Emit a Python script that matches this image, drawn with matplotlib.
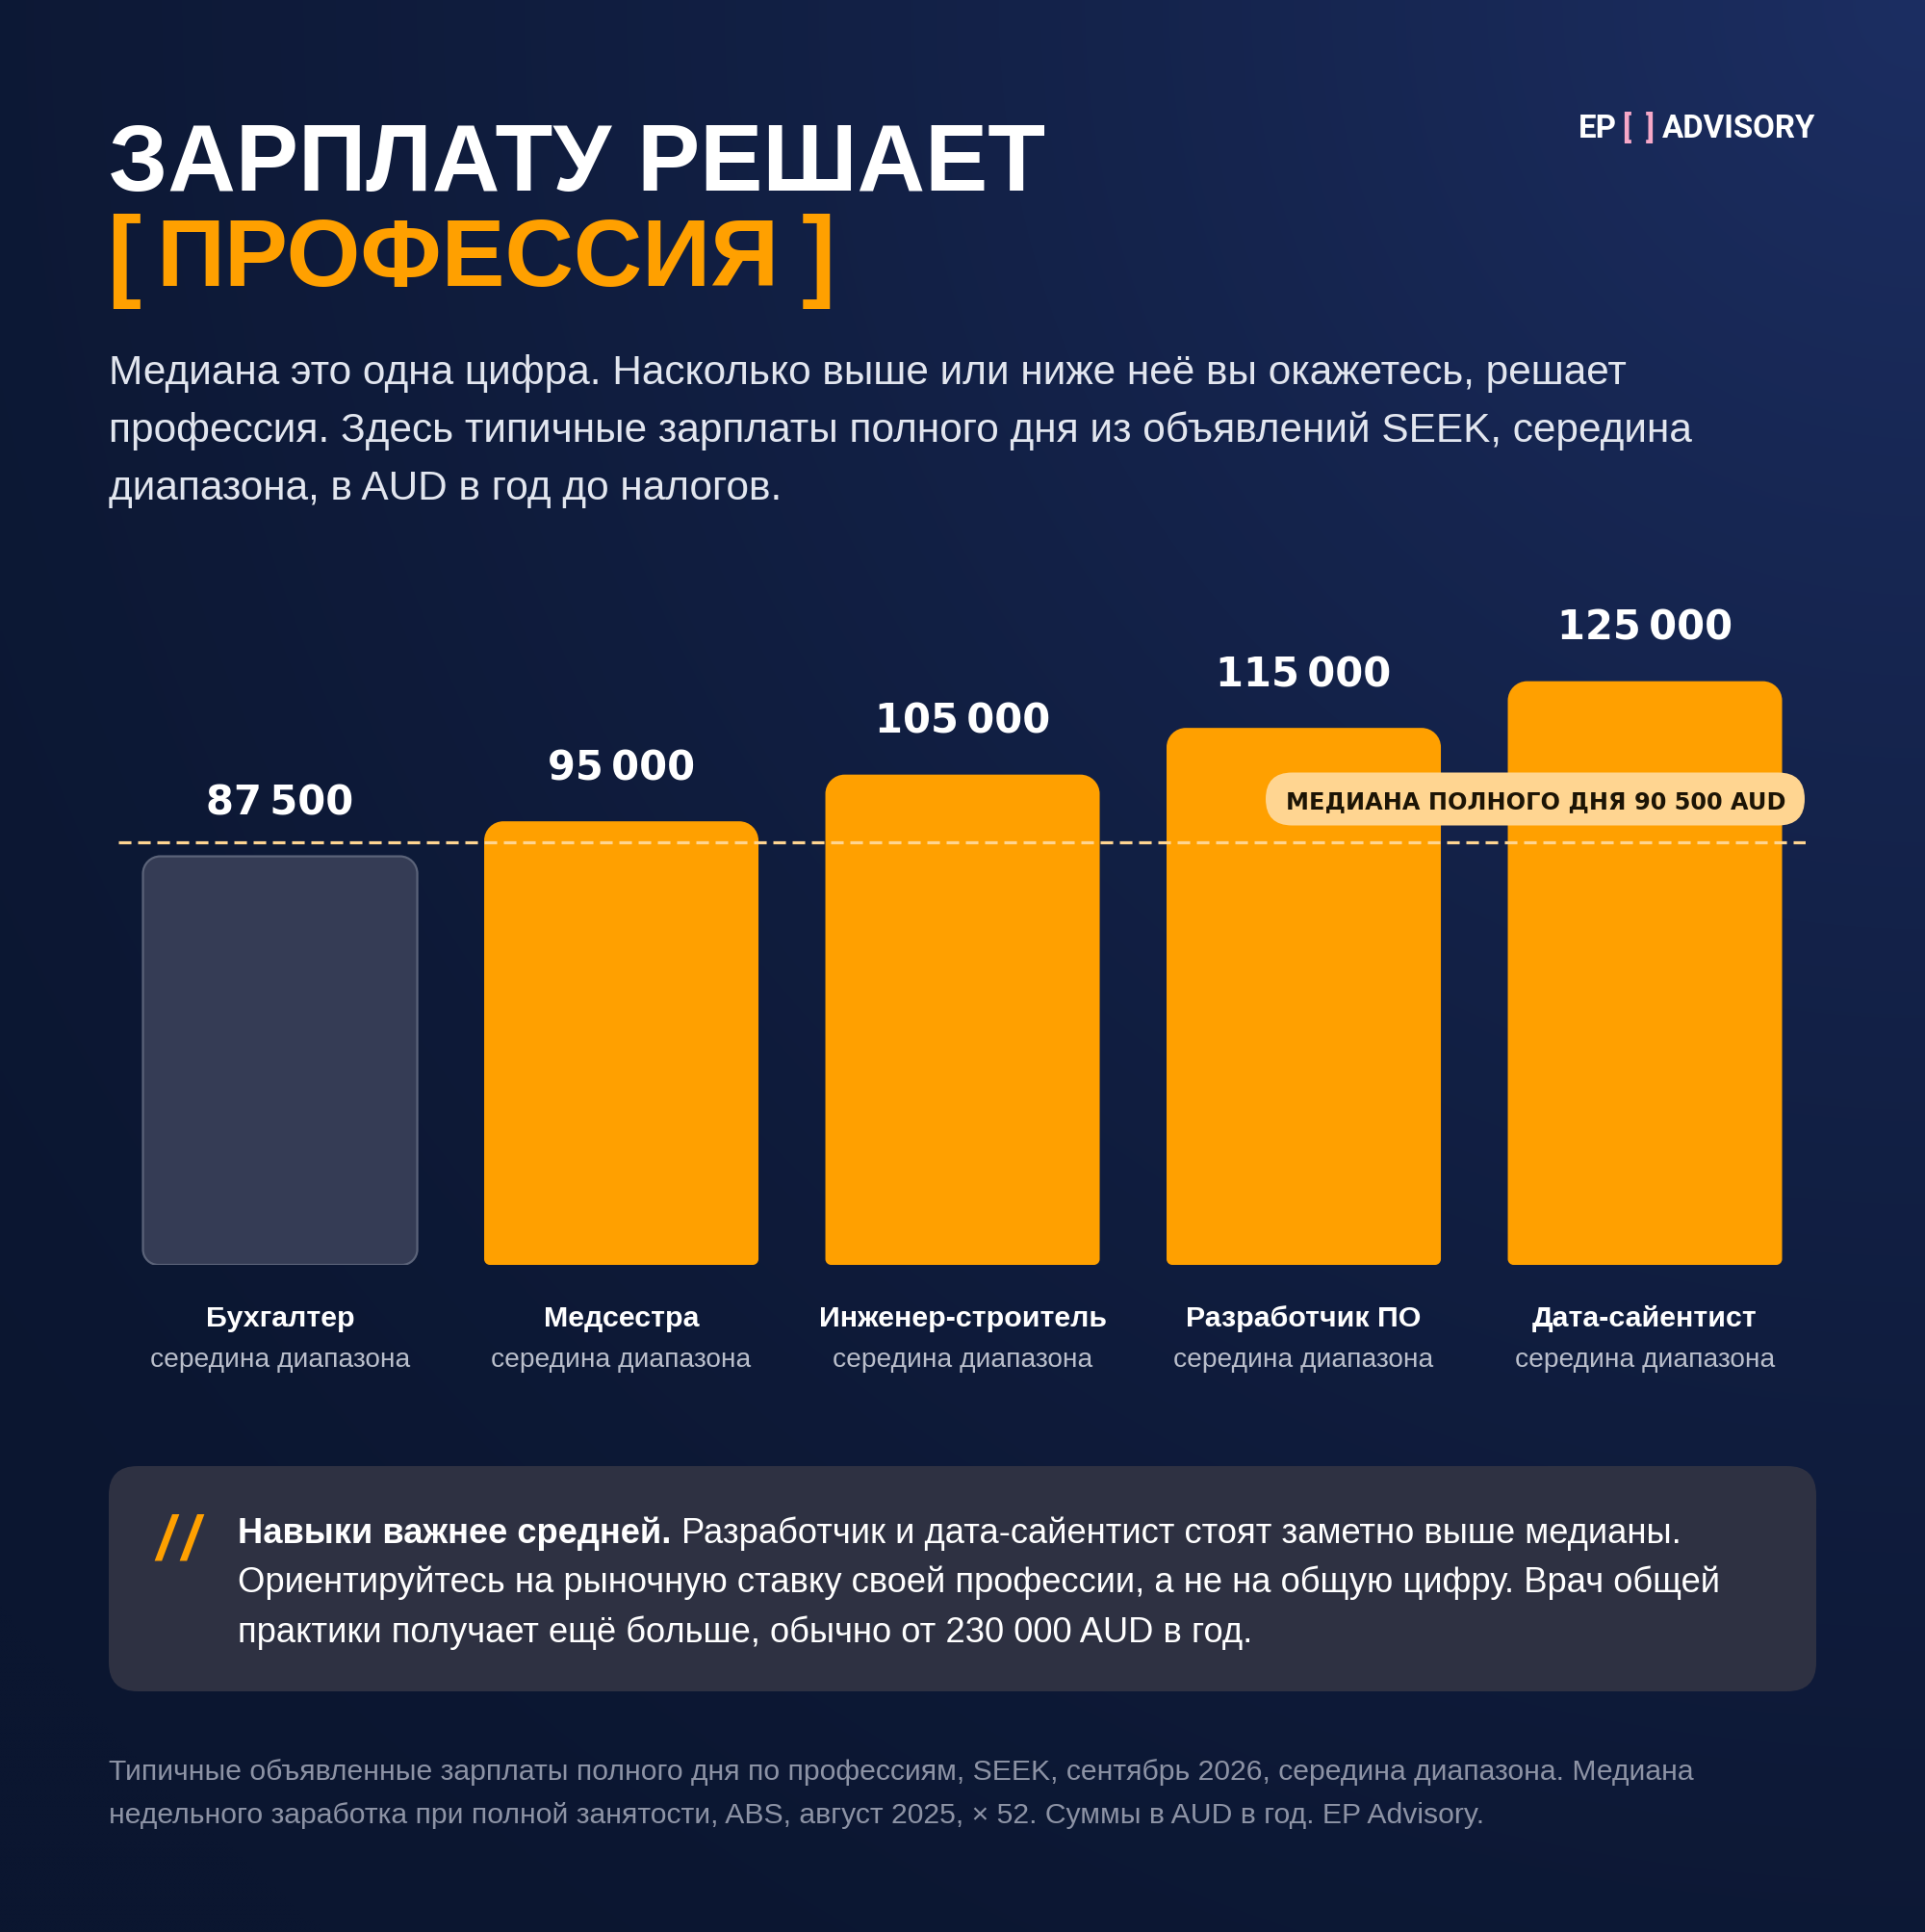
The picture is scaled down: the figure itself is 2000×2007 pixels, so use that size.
import numpy as np
import matplotlib
matplotlib.use('Agg')
import matplotlib.pyplot as plt
from matplotlib.patches import FancyBboxPatch, PathPatch
from matplotlib.path import Path

# ---------------- data ----------------
categories = ['Бухгалтер', 'Медсестра', 'Инженер-строитель', 'Разработчик ПО', 'Дата-сайентист']
values = [87500, 95000, 105000, 115000, 125000]
value_labels = ['87 500', '95 000', '105 000', '115 000', '125 000']
highlight = [False, True, True, True, True]
sub_label = 'середина диапазона'
median_value = 90500
median_prefix = 'МЕДИАНА ПОЛНОГО ДНЯ'
median_amount = '90 500 AUD'

title_line1 = 'ЗАРПЛАТУ РЕШАЕТ'
title_line2 = 'ПРОФЕССИЯ'
subtitle_lines = [
    'Медиана это одна цифра. Насколько выше или ниже неё вы окажетесь, решает',
    'профессия. Здесь типичные зарплаты полного дня из объявлений SEEK, середина',
    'диапазона, в AUD в год до налогов.',
]
note_bold = 'Навыки важнее средней.'
note_lines = [
    'Разработчик и дата-сайентист стоят заметно выше медианы.',
    'Ориентируйтесь на рыночную ставку своей профессии, а не на общую цифру. Врач общей',
    'практики получает ещё больше, обычно от 230 000 AUD в год.',
]
footer_lines = [
    'Типичные объявленные зарплаты полного дня по профессиям, SEEK, сентябрь 2026, середина диапазона. Медиана',
    'недельного заработка при полной занятости, ABS, август 2025, × 52. Суммы в AUD в год. EP Advisory.',
]

# ---------------- style ----------------
ORANGE = '#FFA000'
PEACH = '#FFD591'
GRAY_BAR = '#353C55'
GRAY_EDGE = '#5B6379'
NOTE_BG = '#2E3142'
WHITE = '#FFFFFF'
PINK = '#F7A8C8'
SANS = 'Liberation Sans'
HEAVY = 'DejaVu Sans'

plt.rcParams['lines.scale_dashes'] = False

W, H = 2000, 2008
DPI = 100
fig = plt.figure(figsize=(W / DPI, H / DPI), dpi=DPI)
renderer = fig.canvas.get_renderer()

# background gradient
bg = fig.add_axes([0, 0, 1, 1], zorder=0)
gy, gx = np.mgrid[0:1:400j, 0:1:400j]
d = np.hypot((gx - 1.0) * 1.0, (gy - 0.0) * 1.0)
t = np.clip(1 - d / 1.3, 0, 1) ** 1.5
base = np.array([11, 22, 48]) / 255.0
glow = np.array([28, 46, 98]) / 255.0
img = base[None, None, :] * (1 - t[..., None]) + glow[None, None, :] * t[..., None]
bg.imshow(img, extent=[0, W, H, 0], aspect='auto', interpolation='bilinear')
bg.set_xlim(0, W)
bg.set_ylim(H, 0)
bg.axis('off')

# ---------------- bar axes ----------------
AX_L, AX_R, AX_T, AX_B = 123, 1876, 600, 1315
ax = fig.add_axes([AX_L / W, (H - AX_B) / H, (AX_R - AX_L) / W, (AX_B - AX_T) / H], zorder=2)
ax.patch.set_alpha(0)
x = np.arange(len(categories))
ax.set_xlim(-0.474, 4.471)
ax.set_ylim(0, 147400)
ax.axis('off')

bars = ax.bar(x, values, width=0.804, color=ORANGE)

p0 = ax.transData.transform((0, 0))
p1 = ax.transData.transform((1, 1))
dx_per_px = 1.0 / (p1[0] - p0[0])
dy_per_px = 1.0 / (p1[1] - p0[1])
K = 0.5523


def rounded_bar_path(x0, y0, w, h, r_top, r_bot):
    rxt, ryt = r_top * dx_per_px, r_top * dy_per_px
    rxb, ryb = r_bot * dx_per_px, r_bot * dy_per_px
    x1, y1 = x0 + w, y0 + h
    v = [(x0 + rxb, y0), (x1 - rxb, y0),
         (x1 - rxb + K * rxb, y0), (x1, y0 + ryb - K * ryb), (x1, y0 + ryb),
         (x1, y1 - ryt),
         (x1, y1 - ryt + K * ryt), (x1 - rxt + K * rxt, y1), (x1 - rxt, y1),
         (x0 + rxt, y1),
         (x0 + rxt - K * rxt, y1), (x0, y1 - ryt + K * ryt), (x0, y1 - ryt),
         (x0, y0 + ryb),
         (x0, y0 + ryb - K * ryb), (x0 + rxb - K * rxb, y0), (x0 + rxb, y0),
         (x0 + rxb, y0)]
    c = [Path.MOVETO, Path.LINETO,
         Path.CURVE4, Path.CURVE4, Path.CURVE4,
         Path.LINETO,
         Path.CURVE4, Path.CURVE4, Path.CURVE4,
         Path.LINETO,
         Path.CURVE4, Path.CURVE4, Path.CURVE4,
         Path.LINETO,
         Path.CURVE4, Path.CURVE4, Path.CURVE4,
         Path.CLOSEPOLY]
    return Path(v, c)


for b, hl in zip(bars, highlight):
    bx, by, bw, bh = b.get_x(), b.get_y(), b.get_width(), b.get_height()
    b.set_visible(False)
    if hl:
        ax.add_patch(PathPatch(rounded_bar_path(bx, by, bw, bh, 20, 6),
                               facecolor=ORANGE, edgecolor='none', zorder=3))
    else:
        ax.add_patch(PathPatch(rounded_bar_path(bx, by, bw, bh, 18, 16),
                               facecolor=GRAY_BAR, edgecolor=GRAY_EDGE, linewidth=1.6, zorder=3))

# median line
ax.axhline(median_value, color=PEACH, lw=2.3, dashes=(9.4, 5.0), zorder=5)

PT = 72.0 / DPI  # points per pixel


def fit(texts, width, ref=None):
    ref = ref if ref is not None else texts[0]
    for _ in range(3):
        wcur = ref.get_window_extent(renderer).width
        s = width / wcur
        for tt in texts:
            tt.set_fontsize(tt.get_fontsize() * s)


# value labels
vtexts = []
for xi, v, lbl in zip(x, values, value_labels):
    vtexts.append(ax.annotate(lbl.replace(' ', '\u202f'), (xi, v), xytext=(0, 56 * PT),
                              textcoords='offset points',
                              ha='center', va='center', color=WHITE, fontsize=30,
                              fontweight='bold', family=HEAVY, zorder=6))
fit(vtexts, 182, vtexts[-1])

# category labels
ctexts, stexts = [], []
for xi, c in zip(x, categories):
    ctexts.append(ax.annotate(c, (xi, 0), xytext=(0, -63 * PT), textcoords='offset points',
                              ha='center', va='baseline', color=WHITE, fontsize=20,
                              fontweight='bold', family=SANS, annotation_clip=False))
    stexts.append(ax.annotate(sub_label, (xi, 0), xytext=(0, -105 * PT), textcoords='offset points',
                              ha='center', va='baseline', color='#B9BECB', fontsize=18,
                              family=SANS, annotation_clip=False))
fit(ctexts, 298, ctexts[2])
fit(stexts, 268, stexts[0])

# ---------------- overlay (pixel coords, y down) ----------------
ov = fig.add_axes([0, 0, 1, 1], zorder=4)
ov.patch.set_alpha(0)
ov.set_xlim(0, W)
ov.set_ylim(H, 0)
ov.axis('off')

# median pill
y_med = H - ax.transData.transform((0, median_value))[1]
pill_cy = y_med - 45
pill_h = 55
ov.add_patch(FancyBboxPatch((1315, pill_cy - pill_h / 2), 560, pill_h,
                            boxstyle=f'round,pad=0,rounding_size={pill_h / 2}',
                            facecolor=PEACH, edgecolor='none', zorder=5))
pre = ov.text(1336, pill_cy, median_prefix + ' ', ha='left', va='center_baseline',
              color='#1C1405', fontsize=18, fontweight='bold', family=HEAVY, zorder=6)
amt = ov.text(1600, pill_cy, median_amount, ha='left', va='center_baseline',
              color='#1C1405', fontsize=18, fontweight='heavy', family=HEAVY, zorder=6)
for _ in range(3):
    bb1 = pre.get_window_extent(renderer)
    amt.set_x(bb1.x1)
    bb2 = amt.get_window_extent(renderer)
    tot = bb2.x1 - bb1.x0
    s = 515 / tot
    pre.set_fontsize(pre.get_fontsize() * s)
    amt.set_fontsize(amt.get_fontsize() * s)
bb1 = pre.get_window_extent(renderer)
amt.set_x(bb1.x1)

# title
t1 = ov.text(113, 198, title_line1, ha='left', va='baseline', color=WHITE,
             fontsize=70, fontweight='bold', family=SANS)
fit([t1], 973)
t2 = ov.text(162, 297, title_line2, ha='left', va='baseline', color=ORANGE,
             fontsize=t1.get_fontsize(), fontweight='bold', family=SANS)
fit([t2], 647)
lb = ov.text(111, 299, '[', ha='left', va='baseline', color=ORANGE,
             fontsize=t1.get_fontsize() * 1.08, fontweight='bold', family=SANS)
rb = ov.text(868, 299, ']', ha='right', va='baseline', color=ORANGE,
             fontsize=t1.get_fontsize() * 1.08, fontweight='bold', family=SANS)

# logo
lg_ad = ov.text(1727, 143, 'ADVISORY', ha='left', va='baseline', color=WHITE,
                fontsize=27, fontweight='bold', family='Roboto')
fit([lg_ad], 159)
fs_logo = lg_ad.get_fontsize()
ov.text(1640, 143, 'EP', ha='left', va='baseline', color=WHITE, fontsize=fs_logo,
        fontweight='bold', family='Roboto')
ov.text(1685, 143, '[', ha='left', va='baseline', color=PINK, fontsize=fs_logo,
        fontweight='bold', family='Roboto')
ov.text(1719, 143, ']', ha='right', va='baseline', color=PINK, fontsize=fs_logo,
        fontweight='bold', family='Roboto')

# subtitle
subs = []
for i, line in enumerate(subtitle_lines):
    subs.append(ov.text(113, 399 + 60 * i, line, ha='left', va='baseline', color='#E2E6EF',
                        fontsize=28, family=SANS))
fit(subs, 1577, subs[0])

# note box
ov.add_patch(FancyBboxPatch((113, 1524), 1774, 234, boxstyle='round,pad=0,rounding_size=30',
                            facecolor=NOTE_BG, edgecolor='none', zorder=1))
for sx in (162, 188):
    ov.text(sx, 1620, '/', ha='left', va='baseline', color=ORANGE, fontsize=46,
            fontweight='bold', family=SANS, style='italic')

nb = ov.text(247, 1603, note_bold, ha='left', va='baseline', color=WHITE, fontsize=25,
             fontweight='bold', family=SANS)
nl = []
for i, line in enumerate(note_lines):
    nl.append(ov.text(247, 1603 + 51.5 * i, line, ha='left', va='baseline', color=WHITE,
                      fontsize=25, family=SANS))
fit(nl + [nb], 1540, nl[1])
bbn = nb.get_window_extent(renderer)
nl[0].set_x(bbn.x1 + nb.get_fontsize() / PT * 0.28)

# footer
ft = []
for i, line in enumerate(footer_lines):
    ft.append(ov.text(113, 1849 + 45 * i, line, ha='left', va='baseline', color='#8D93A5',
                      fontsize=20, family=SANS))
fit(ft, 1647, ft[0])

fig.savefig('out.png', dpi=DPI)
